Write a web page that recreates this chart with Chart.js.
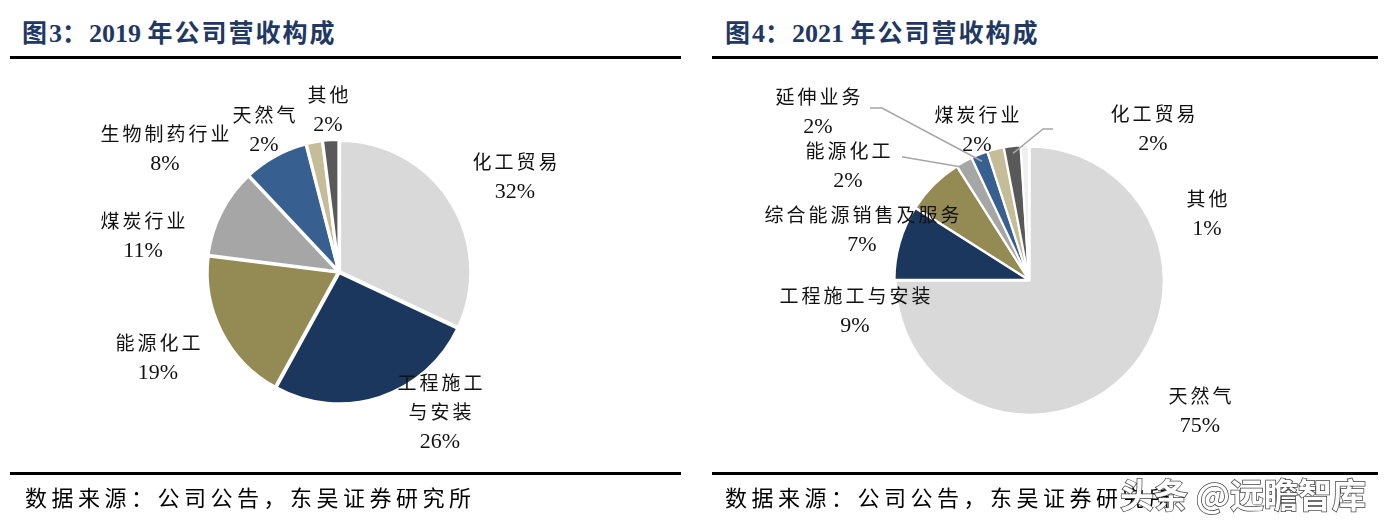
<!DOCTYPE html>
<html>
<head>
<meta charset="utf-8">
<script src="https://cdn.jsdelivr.net/npm/chart.js@4.4.1/dist/chart.umd.min.js"></script>
<style>
  html, body { margin: 0; padding: 0; background: #fff; }
  body { width: 1388px; height: 531px; position: relative; overflow: hidden;
         font-family: "Liberation Serif", "Noto Sans CJK SC", serif; }
  .panel { position: absolute; top: 0; width: 694px; height: 531px; }
  .panel canvas { position: absolute; left: 0; top: 0; }
  .title { position: absolute; top: 14px; left: 22px; font-size: 26px; font-weight: bold;
           color: #1f3864; white-space: nowrap; line-height: 34px; }
  .title .cn { font-family: "Noto Sans CJK SC"; font-size: 25px; letter-spacing: 2px; }
  .rule { position: absolute; height: 3px; background: #000; }
  .src { position: absolute; top: 480px; left: 25px; font-family: "Noto Sans CJK SC";
         font-size: 22px; letter-spacing: 4.5px; color: #000; white-space: nowrap; }
  .wm { position: absolute; left: 1120px; top: 472px; font-family: "Noto Sans CJK SC";
        font-size: 34px; font-weight: bold; color: #fff; white-space: nowrap; line-height: 44px;
        -webkit-text-stroke: 1.5px #444; paint-order: stroke fill; }
</style>
</head>
<body>

<div class="panel" style="left:0">
  <div class="title"><span class="cn">图</span>3<span class="cn">：</span>2019 <span class="cn">年公司营收构成</span></div>
  <div class="rule" style="left:10px;width:671px;top:56px"></div>
  <canvas id="chart-2019" width="694" height="531"></canvas>
  <div class="rule" style="left:10px;width:671px;top:472px"></div>
  <div class="src">数据来源：公司公告，东吴证券研究所</div>
</div>

<div class="panel" style="left:694px">
  <div class="title" style="left:31px"><span class="cn">图</span>4<span class="cn">：</span>2021 <span class="cn">年公司营收构成</span></div>
  <div class="rule" style="left:18px;width:666px;top:56px"></div>
  <canvas id="chart-2021" width="694" height="531"></canvas>
  <div class="rule" style="left:18px;width:666px;top:472px"></div>
  <div class="src" style="left:31px">数据来源：公司公告，东吴证券研究所</div>
</div>

<div class="wm">头条 @远瞻智库</div>

<script>
// --- données 2019 ---
const cat2019 = ['化工贸易', '工程施工与安装', '能源化工', '煤炭行业', '生物制药行业', '天然气', '其他'];
const val2019 = [32, 26, 19, 11, 8, 2, 2];
const col2019 = ['#d9d9d9', '#1b375e', '#948a54', '#a6a6a6', '#375f90', '#c4bd97', '#595959'];

// --- données 2021 ---
const cat2021 = ['天然气', '工程施工与安装', '综合能源销售及服务', '能源化工', '延伸业务', '煤炭行业', '化工贸易', '其他'];
const val2021 = [75, 9, 7, 2, 2, 2, 2, 1];
const col2021 = ['#d9d9d9', '#1b375e', '#948a54', '#a6a6a6', '#375f90', '#c4bd97', '#595959', '#efefef'];

// placement des étiquettes (décalage depuis le centre du camembert)
const pos2019 = [
  { dx: 176, dy: -110 },
  { dx: 101, dy: 111, wrap: 4 },
  { dx: -181, dy: 71 },
  { dx: -196, dy: -51 },
  { dx: -174, dy: -138 },
  { dx: -75, dy: -157 },
  { dx: -11, dy: -177 }
];
const pos2021 = [
  { dx: 171, dy: 116 },
  { dx: -174, dy: 16 },
  { dx: -167, dy: -65 },
  { dx: -181, dy: -129 },
  { dx: -211, dy: -183 },
  { dx: -52, dy: -165 },
  { dx: 124, dy: -166 },
  { dx: 178, dy: -81 }
];
const leaders2021 = [
  { index: 3, from: [-127, -123], elbow: [-126, -123] },
  { index: 4, from: [-159, -172], elbow: [-147, -172] },
  { index: 6, from: [24, -151], elbow: [14, -151] }
];

const pieLabels = {
  id: 'pieLabels',
  afterDatasetsDraw(chart, args, opts) {
    const ctx = chart.ctx;
    const meta = chart.getDatasetMeta(0);
    const cx = (chart.chartArea.left + chart.chartArea.right) / 2;
    const cy = (chart.chartArea.top + chart.chartArea.bottom) / 2;
    const labels = chart.data.labels;
    const values = chart.data.datasets[0].data;
    ctx.save();

    // lignes de rappel
    (opts.leaders || []).forEach(l => {
      const a = meta.data[l.index];
      const mid = (a.startAngle + a.endAngle) / 2;
      const r = a.outerRadius * 0.96;
      ctx.beginPath();
      ctx.moveTo(cx + l.from[0], cy + l.from[1]);
      ctx.lineTo(cx + l.elbow[0], cy + l.elbow[1]);
      ctx.lineTo(a.x + Math.cos(mid) * r, a.y + Math.sin(mid) * r);
      ctx.strokeStyle = '#a6a6a6';
      ctx.lineWidth = 1.5;
      ctx.stroke();
    });

    ctx.textAlign = 'center';
    ctx.textBaseline = 'middle';
    ctx.fillStyle = '#111';
    opts.pos.forEach((p, i) => {
      const name = labels[i];
      const lines = [];
      if (p.wrap) {
        for (let k = 0; k < name.length; k += p.wrap) lines.push(name.slice(k, k + p.wrap));
      } else {
        lines.push(name);
      }
      const x = cx + p.dx;
      let y = cy + p.dy;
      ctx.font = '19px "Noto Sans CJK SC"';
      ctx.letterSpacing = '3px';
      lines.forEach(t => { ctx.fillText(t, x + 1.5, y); y += 29; });
      ctx.font = '22px "Liberation Serif"';
      ctx.letterSpacing = '0px';
      ctx.fillText(values[i] + '%', x, y + 1);
    });
    ctx.restore();
  }
};

function makePie(id, cats, vals, cols, pos, leaders, pad, border, offset) {
  new Chart(document.getElementById(id), {
    type: 'pie',
    data: {
      labels: cats,
      datasets: [{
        data: vals,
        backgroundColor: cols,
        borderColor: '#fff',
        borderWidth: border,
        offset: offset
      }]
    },
    options: {
      responsive: false,
      animation: false,
      layout: { padding: pad },
      plugins: {
        legend: { display: false },
        tooltip: { enabled: false },
        pieLabels: { pos: pos, leaders: leaders }
      }
    },
    plugins: [pieLabels]
  });
}

makePie('chart-2019', cat2019, val2019, col2019, pos2019, [],
  { left: 205, right: 221, top: 138, bottom: 125 }, 3, 3);
makePie('chart-2021', cat2021, val2021, col2021, pos2021, leaders2021,
  { left: 199, right: 223, top: 144, bottom: 115 }, 2, 4);
</script>
</body>
</html>
